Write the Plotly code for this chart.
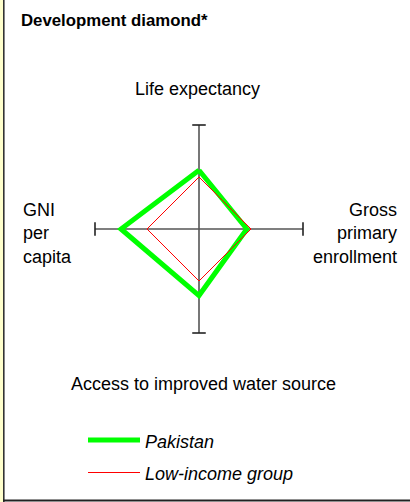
import plotly.graph_objects as go

# ---- data ----
indicators = ["Life expectancy", "Gross primary enrollment",
              "Access to improved water source", "GNI per capita"]
pakistan = [1.13, 0.92, 1.28, 1.50]
low_income = [1.0, 1.0, 1.0, 1.0]
axis_max = 2.0
series_names = ["Pakistan", "Low-income group"]
series_colors = ["#00FF00", "#FF0000"]
series_widths = [5, 1]

W, H = 410, 502
CX, CY, PPU = 199, 229, 52.0  # centre pixel and pixels per unit


def diamond(vals):
    life, enroll, water, gni = vals
    xs = [0, enroll, 0, -gni, 0]
    ys = [life, 0, -water, 0, life]
    return xs, ys


def px(x):
    return x / W


def py(y):
    return 1 - y / H


fig = go.Figure()
for name, vals, col, w in zip(series_names, [pakistan, low_income], series_colors, series_widths):
    xs, ys = diamond(vals)
    fig.add_trace(go.Scatter(x=xs, y=ys, mode="lines", name=name,
                             line=dict(color=col, width=w), showlegend=False,
                             hoverinfo="skip"))

shapes = []
axc = "#555555"
cap = 0.13
# axes
shapes.append(dict(type="line", xref="x", yref="y", x0=-axis_max, x1=axis_max, y0=0, y1=0,
                   line=dict(color=axc, width=1.6), layer="below"))
shapes.append(dict(type="line", xref="x", yref="y", x0=0, x1=0, y0=-axis_max, y1=axis_max,
                   line=dict(color=axc, width=1.6), layer="below"))
for s in (-1, 1):
    shapes.append(dict(type="line", xref="x", yref="y", x0=s * axis_max, x1=s * axis_max,
                       y0=-cap, y1=cap, line=dict(color="#222222", width=1.6)))
    shapes.append(dict(type="line", xref="x", yref="y", y0=s * axis_max, y1=s * axis_max,
                       x0=-cap, x1=cap, line=dict(color="#222222", width=1.6)))
# frame
shapes.append(dict(type="rect", xref="paper", yref="paper", x0=0, x1=px(3), y0=0, y1=1,
                   fillcolor="#FFFFCC", line=dict(width=0)))
shapes.append(dict(type="line", xref="paper", yref="paper", x0=px(3.8), x1=px(3.8), y0=0, y1=1,
                   line=dict(color="#333333", width=1.6)))
shapes.append(dict(type="line", xref="paper", yref="paper", x0=px(3), x1=1, y0=py(500.5), y1=py(500.5),
                   line=dict(color="#222222", width=2)))
# legend keys
leg_y = [440, 472.5]
for col, w, yy in zip(series_colors, series_widths, leg_y):
    shapes.append(dict(type="line", xref="paper", yref="paper", x0=px(88), x1=px(140),
                       y0=py(yy), y1=py(yy), line=dict(color=col, width=w)))

FONT = "Liberation Sans, Arial, sans-serif"
ann = []
ann.append(dict(text="<b>Development diamond*</b>", x=px(19), y=py(21), xanchor="left",
                yanchor="middle", font=dict(size=16.8)))
ann.append(dict(text=indicators[0], x=px(197), y=py(89), xanchor="center", yanchor="middle",
                font=dict(size=18)))
ann.append(dict(text="GNI<br>per<br>capita", x=px(21), y=py(233), xanchor="left", yanchor="middle",
                align="left", font=dict(size=18)))
ann.append(dict(text="Gross<br>primary<br>enrollment", x=px(399), y=py(233), xanchor="right",
                yanchor="middle", align="right", font=dict(size=18)))
ann.append(dict(text=indicators[2], x=px(203.5), y=py(384), xanchor="center", yanchor="middle",
                font=dict(size=18)))
for name, yy in zip(series_names, leg_y):
    ann.append(dict(text="<i>" + name + "</i>", x=px(143), y=py(yy + 1.5), xanchor="left",
                    yanchor="middle", font=dict(size=18)))
for a in ann:
    a.update(xref="paper", yref="paper", showarrow=False)
    a["font"].update(family=FONT, color="#000000")

fig.update_layout(
    width=W, height=H,
    margin=dict(l=0, r=0, t=0, b=0),
    paper_bgcolor="white", plot_bgcolor="white",
    xaxis=dict(range=[-CX / PPU, (W - CX) / PPU], visible=False, fixedrange=True),
    yaxis=dict(range=[-(H - CY) / PPU, CY / PPU], visible=False, fixedrange=True),
    shapes=shapes, annotations=ann, showlegend=False,
    font=dict(family=FONT),
)

fig.write_html("out.html", config={"displayModeBar": False},
               post_script="document.body.style.margin='0';document.body.style.overflow='hidden';")
